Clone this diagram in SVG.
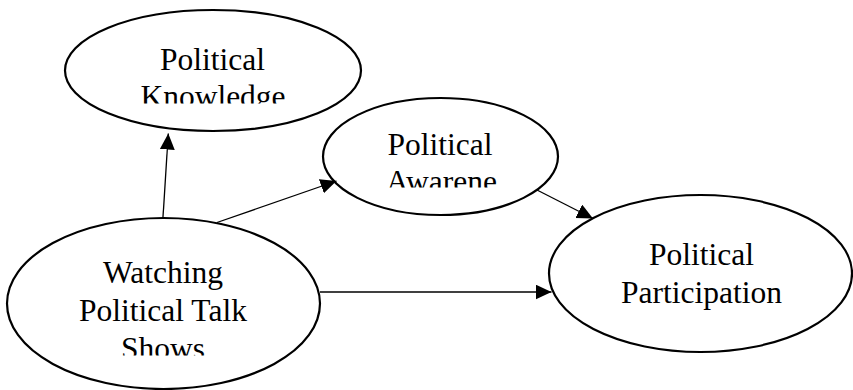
<svg xmlns="http://www.w3.org/2000/svg" width="853" height="390" viewBox="0 0 853 390">
  <style>
    .node ellipse { fill: #ffffff; stroke: #000000; stroke-width: 2.2; }
    .lbl { font-family: "Liberation Serif", "Times New Roman", serif; font-size: 31.5px; fill: #000000; text-anchor: middle; }
    .edge { stroke: #000000; stroke-width: 1.3; fill: none; marker-end: url(#arrow); }
  </style>
  <defs>
    <marker id="arrow" markerUnits="userSpaceOnUse" markerWidth="17" markerHeight="16" refX="16" refY="7.5" orient="auto">
      <path d="M0,0 L16,7.5 L0,15 z" fill="#000000"/>
    </marker>
    <clipPath id="clipK"><rect x="60" y="0" width="310" height="103.5"/></clipPath>
    <clipPath id="clipA"><rect x="320" y="90" width="240" height="97.5"/></clipPath>
    <clipPath id="clipW"><rect x="0" y="210" width="330" height="145.5"/></clipPath>
  </defs>
  <rect width="853" height="390" fill="#ffffff"/>
  <g id="n-knowledge" class="node">
    <ellipse cx="213" cy="70.5" rx="148" ry="60.5"/>
    <g clip-path="url(#clipK)">
      <text class="lbl" x="212.5" y="70">Political</text>
      <text class="lbl" x="213" y="107">Knowledge</text>
    </g>
  </g>
  <g id="n-awareness" class="node">
    <ellipse cx="440.5" cy="156.5" rx="117.5" ry="58.5"/>
    <g clip-path="url(#clipA)">
      <text class="lbl" x="440" y="155">Political</text>
      <text class="lbl" x="441.5" y="192">Awarene</text>
    </g>
  </g>
  <g id="n-watching" class="node">
    <ellipse cx="163.5" cy="303.5" rx="156.5" ry="85.5"/>
    <g clip-path="url(#clipW)">
      <text class="lbl" x="163" y="283">Watching</text>
      <text class="lbl" x="163" y="321">Political Talk</text>
      <text class="lbl" x="163" y="359">Shows</text>
    </g>
  </g>
  <g id="n-participation" class="node">
    <ellipse cx="700.5" cy="273.5" rx="151.5" ry="78.5"/>
    <text class="lbl" x="701.5" y="265">Political</text>
    <text class="lbl" x="701.5" y="303">Participation</text>
  </g>
  <g id="connectors">
    <line class="edge" x1="163" y1="217" x2="168.3" y2="133.5"/>
    <line class="edge" x1="217" y1="222.5" x2="336.5" y2="181"/>
    <line class="edge" x1="537" y1="190" x2="593" y2="218.5"/>
    <line class="edge" x1="320" y1="292" x2="551.5" y2="292"/>
  </g>
</svg>
